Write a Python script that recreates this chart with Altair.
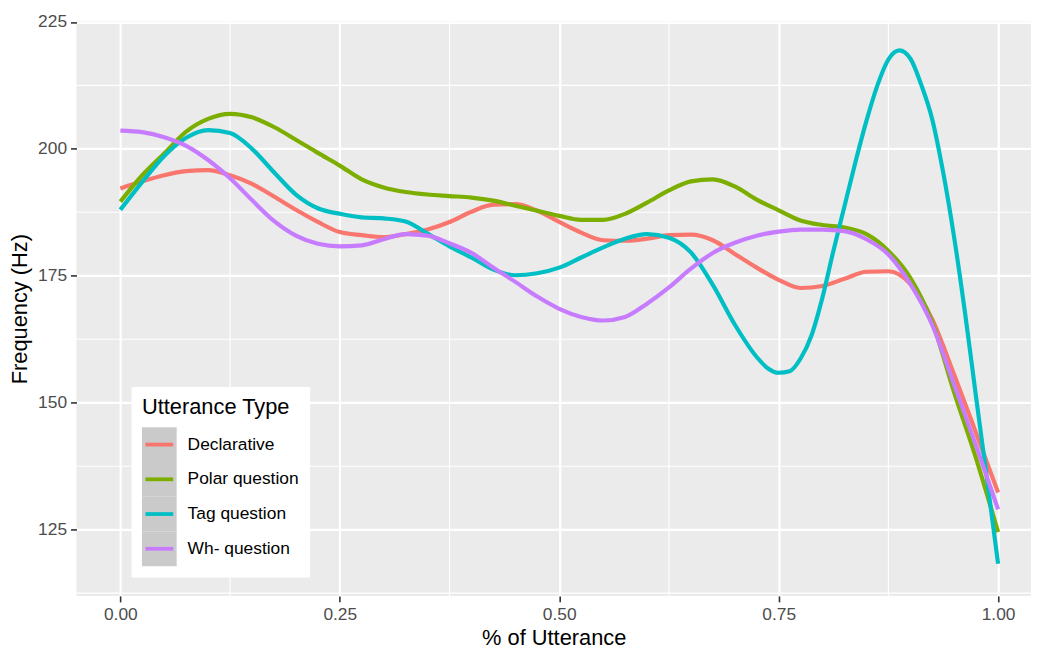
import altair as alt
import pandas as pd

types = ["Declarative", "Polar question", "Tag question", "Wh- question"]
colors = ["#F8766D", "#7CAE00", "#00BFC4", "#C77CFF"]

x_common = [0.0, 0.025, 0.05, 0.075, 0.1, 0.125, 0.15, 0.175, 0.2, 0.225,
            0.25, 0.275, 0.3, 0.325, 0.35, 0.375, 0.4, 0.425, 0.45, 0.475,
            0.5, 0.525, 0.55, 0.575, 0.6, 0.625, 0.65, 0.675, 0.7, 0.725,
            0.75, 0.775, 0.8, 0.825, 0.85, 0.875, 0.9, 0.925, 0.95, 0.975, 1.0]

decl_y = [192.2, 193.6, 194.8, 195.6, 195.8, 194.8, 193.1, 190.6, 188.0, 185.6,
          183.6, 183.0, 182.6, 183.2, 184.1, 185.6, 187.6, 189.0, 189.1, 187.8,
          185.6, 183.5, 182.0, 181.9, 182.3, 183.0, 183.1, 182.0, 179.3, 176.6,
          174.2, 172.6, 173.0, 174.4, 175.8, 175.9, 173.4, 166.4, 155.5, 144.0, 132.3]

polar_y = [189.6, 194.8, 199.1, 203.4, 205.9, 206.9, 206.2, 204.3, 201.8, 199.2,
           196.7, 194.0, 192.4, 191.5, 191.0, 190.7, 190.4, 189.8, 188.8, 187.8,
           186.8, 186.0, 186.0, 187.2, 189.4, 191.8, 193.6, 194.0, 192.6, 190.0,
           187.9, 185.9, 185.0, 184.5, 183.2, 179.9, 174.6, 165.8, 152.0, 139.0, 124.5]

wh_y = [203.6, 203.3, 202.3, 200.6, 197.8, 194.2, 189.9, 185.8, 182.9, 181.3,
        180.8, 181.0, 182.2, 183.2, 182.9, 181.4, 179.5, 176.6, 173.8, 170.9,
        168.5, 166.9, 166.2, 166.9, 169.5, 172.7, 176.4, 179.5, 181.5, 182.9,
        183.7, 184.1, 184.1, 183.8, 182.2, 179.2, 173.4, 165.3, 153.5, 141.5, 129.0]

tag_x = [0.0, 0.025, 0.05, 0.075, 0.1, 0.125, 0.15, 0.175, 0.2, 0.225,
         0.25, 0.275, 0.3, 0.325, 0.35, 0.375, 0.4, 0.425, 0.45, 0.475,
         0.5, 0.525, 0.55, 0.575, 0.6, 0.625, 0.65, 0.675, 0.7, 0.725,
         0.7375, 0.75, 0.7625, 0.775, 0.7875, 0.8, 0.8125, 0.825, 0.8375, 0.85,
         0.8625, 0.875, 0.8875, 0.9, 0.9125, 0.925, 0.9375, 0.95, 0.9625, 0.975,
         0.9875, 1.0]
tag_y = [188.0, 193.5, 198.6, 202.2, 203.7, 203.1, 200.0, 195.4, 191.0, 188.3,
         187.2, 186.5, 186.3, 185.7, 183.3, 180.8, 178.6, 176.2, 175.1, 175.5,
         176.6, 178.6, 180.6, 182.3, 183.2, 182.5, 179.6, 173.2, 165.4, 159.0,
         156.8, 155.9, 156.2, 158.7, 163.3, 170.8, 180.0, 188.7, 197.4, 205.5,
         212.5, 217.6, 219.4, 217.8, 212.6, 205.8, 195.3, 182.5, 167.5, 151.0,
         134.8, 118.3]

x_major = [0, 0.25, 0.5, 0.75, 1.0]
y_major = [125, 150, 175, 200, 225]
x_minor = [0.125, 0.375, 0.625, 0.875]
y_minor = [112.5, 137.5, 162.5, 187.5, 212.5]

rows = []
for t, xs, ys in [(types[0], x_common, decl_y), (types[1], x_common, polar_y),
                  (types[2], tag_x, tag_y), (types[3], x_common, wh_y)]:
    for xv, yv in zip(xs, ys):
        rows.append({"type": t, "x": xv, "y": yv})
df = pd.DataFrame(rows)

x_scale = alt.Scale(domain=[-0.05, 1.0375], nice=False, zero=False)
y_scale = alt.Scale(domain=[111.95, 225.1], nice=False, zero=False)

axis_style = dict(grid=True, gridColor="white", gridWidth=2.2, domain=False,
                  tickColor="#333333", tickSize=6, tickWidth=1.6,
                  labelFontSize=17.5, labelColor="#4D4D4D", labelPadding=4,
                  labelFlush=False, labelOverlap=False,
                  titleFontSize=22, titleFontWeight="normal", titleColor="black")

x_enc = alt.X("x:Q", scale=x_scale,
              axis=alt.Axis(values=x_major, format=".2f", title="% of Utterance",
                            titlePadding=4, **axis_style))
y_enc = alt.Y("y:Q", scale=y_scale,
              axis=alt.Axis(values=y_major, format="d", title="Frequency (Hz)",
                            titlePadding=6, **axis_style))

legend_common = dict(orient="none", legendX=55, legendY=368,
                     titleFontSize=22, titleFontWeight="normal", titlePadding=8,
                     labelFontSize=17.5, labelOffset=11, rowPadding=0, padding=11,
                     direction="vertical", cornerRadius=0, strokeColor="transparent")

# coloured key lines (the invisible move-to points give each entry the key height),
# drawn on top of the grey key squares
line_legend = alt.Legend(title=" ", symbolType="M0,-0.614M-0.9,0H0.9M0,0.614",
                         symbolSize=967.21, symbolStrokeWidth=3.8,
                         symbolFillColor="transparent", labelExpr="''",
                         labelColor="transparent", titleColor="transparent",
                         fillColor="transparent", zindex=2, **legend_common)
# grey key squares, legend box, title and labels
key_legend = alt.Legend(title="Utterance Type", symbolType="square", symbolSize=1225,
                        symbolStrokeWidth=0, symbolOpacity=1, labelColor="black",
                        titleColor="black", fillColor="white", zindex=1,
                        **legend_common)

vrules = alt.Chart(pd.DataFrame({"x": x_minor})).mark_rule(
    color="white", strokeWidth=1.1).encode(x=x_enc)
hrules = alt.Chart(pd.DataFrame({"y": y_minor})).mark_rule(
    color="white", strokeWidth=1.1).encode(y=y_enc)

keys = alt.Chart(df).mark_square(size=0, opacity=1).encode(
    x=x_enc, y=y_enc,
    fill=alt.Fill("type:N", scale=alt.Scale(range=["#CACACA"] * 4),
                  legend=key_legend))

lines = alt.Chart(df).mark_line(strokeWidth=4.2, interpolate="monotone").encode(
    x=x_enc, y=y_enc,
    color=alt.Color("type:N", scale=alt.Scale(domain=types, range=colors),
                    legend=line_legend))

chart = alt.layer(vrules, hrules, keys, lines).properties(
    width=962, height=579,
    padding={"left": 69, "top": 11, "right": 0, "bottom": 51},
    autosize=alt.AutoSizeParams(type="none"),
    background="white",
).configure(font="Liberation Sans").configure_view(fill="#EBEBEB", strokeWidth=0)

chart.save("out.html", embed_options={"renderer": "svg", "actions": False})
